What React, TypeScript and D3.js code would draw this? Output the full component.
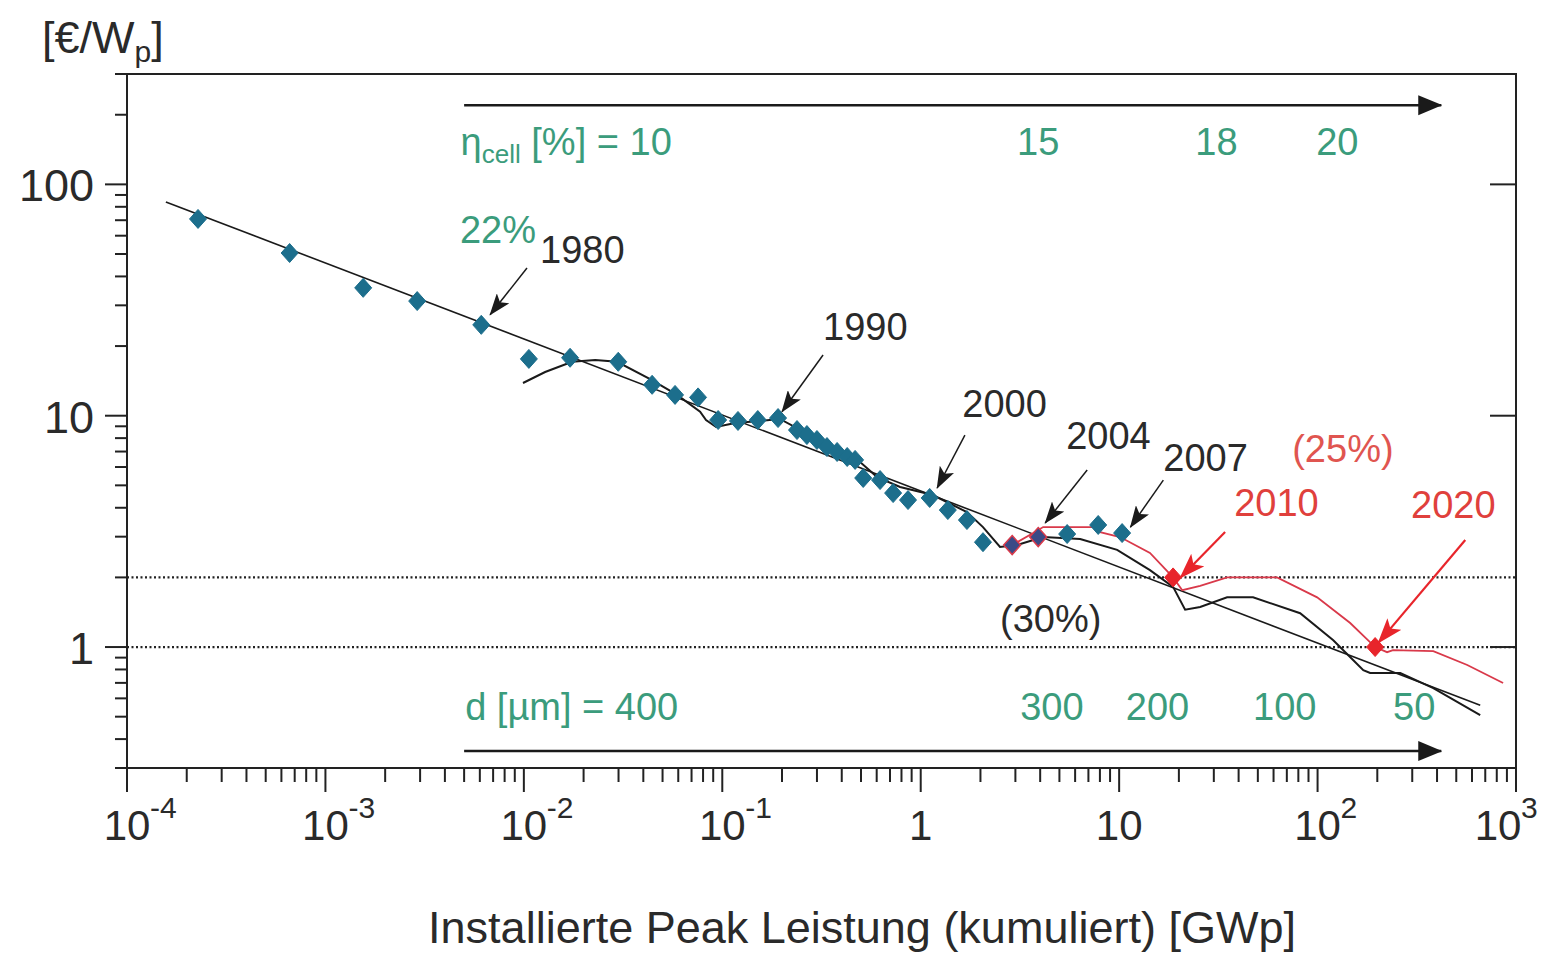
import React from 'react';
import * as d3 from 'd3';

const W = 1550;
const H = 953;
const FONT = "'Liberation Sans', Arial, Helvetica, sans-serif";

// Historical module prices: cumulative installed capacity [GWp] vs. price [€/Wp]
const capacityGWp = [
  2.28e-4, 6.6e-4, 1.55e-3, 2.9e-3, 6.1e-3, 0.0106, 0.0171, 0.0299, 0.0443, 0.0578,
  0.0755, 0.0953, 0.12, 0.151, 0.191, 0.238, 0.267, 0.3, 0.337, 0.379,
  0.426, 0.467, 0.513, 0.624, 0.726, 0.863, 1.11, 1.37, 1.71, 2.06,
  2.89, 3.91, 5.47, 7.84, 10.35,
];
const priceEurWp = [
  70.9, 50.5, 35.7, 31.3, 24.7, 17.6, 17.8, 17.1, 13.6, 12.3,
  12.0, 9.58, 9.49, 9.58, 9.77, 8.67, 8.25, 7.85, 7.32, 6.97,
  6.63, 6.44, 5.38, 5.27, 4.63, 4.32, 4.41, 3.91, 3.54, 2.84,
  2.76, 2.99, 3.08, 3.37, 3.11,
];
// points of the 2004 period drawn with a red rim
const rimmedPoints = [30, 31];

// straight experience curve (log-log)
const trendX = [1.57e-4, 660];
const trendY = [84, 0.56];

// price path with market humps
const humpX = [
  0.0099, 0.0128, 0.0175, 0.0229, 0.0295, 0.0433, 0.0592, 0.0773, 0.0828, 0.0931,
  0.116, 0.155, 0.195, 0.277, 0.393, 0.495, 0.603, 0.787, 1.15, 1.71,
  2.06, 2.51, 3.06, 4.14, 6.36, 9.77, 14.3, 18.7, 21.5, 25.6,
  35.0, 47.3, 81.7, 120, 151, 170, 184, 261, 383, 660,
];
const humpY = [
  13.85, 15.45, 17.1, 17.4, 17.1, 14.4, 12.3, 10.4, 9.58, 8.94,
  9.3, 9.49, 9.68, 8.25, 6.97, 6.31, 5.43, 4.92, 4.54, 3.83,
  3.3, 2.71, 2.76, 2.99, 2.93, 2.63, 2.15, 1.82, 1.45, 1.49,
  1.64, 1.64, 1.4, 1.07, 0.879, 0.795, 0.772, 0.772, 0.665, 0.508,
];

// projected price path (red)
const projX = [
  2.72, 3.69, 4.14, 7.4, 8.02, 10.1, 14.3, 18.7, 20.8, 25.6,
  35.0, 62.5, 99.5, 146, 195, 224, 240, 383, 568, 861,
];
const projY = [
  2.68, 3.11, 3.3, 3.3, 3.14, 2.99, 2.55, 2.0, 1.76, 1.84,
  2.0, 2.0, 1.64, 1.27, 1.0, 0.95, 0.97, 0.96, 0.836, 0.699,
];

// price targets 2010 / 2020
const targetX = [18.7, 195];
const targetY = [2.0, 1.0];

// reference price levels (dotted)
const refLevels = [2, 1];

// year annotations: label position and arrow tail -> tip, in data units
const yearLabels = ['1980', '1990', '2000', '2004', '2007', '2010', '2020'];
const yearLabelX = [0.01207, 0.322, 1.62, 5.41, 16.7, 38.0, 296];
const yearLabelY = [45.7, 21.2, 9.87, 7.18, 5.77, 3.69, 3.61];
const arrowFromX = [0.01037, 0.322, 1.67, 6.9, 16.7, 34.2, 555];
const arrowFromY = [43.5, 18.3, 8.25, 5.82, 5.27, 3.14, 2.9];
const arrowToX = [6.76e-3, 0.2, 1.21, 4.24, 11.4, 20.3, 202];
const arrowToY = [27.3, 10.4, 4.87, 3.44, 3.3, 1.99, 1.04];
const yearIsProjection = [false, false, false, false, false, true, true];

// efficiency notes
const effNotes = ['22%', '(25%)', '(30%)'];
const effNoteX = [4.76e-3, 74.5, 2.51];
const effNoteY = [55.8, 6.31, 1.16];

// cell efficiency scale (top) and wafer thickness scale (bottom)
const etaValues = ['15', '18', '20'];
const etaX = [3.06, 24.2, 98.4];
const etaStartX = 4.8e-3;
const etaRowY = 134;
const thicknessValues = ['300', '200', '100', '50'];
const thicknessX = [3.17, 10.8, 47.3, 240];
const thicknessStartX = 5.06e-3;
const thicknessRowY = 0.484;
const scaleArrowX = [0.005, 420];
const scaleArrowY = [220, 0.355];

const TEXT = '#2a2a2a';
const GREEN = '#3b9c7c';
const RED = '#e0403c';
const BLUE = '#1c6e8c';

export default function App() {
  const x = d3.scaleLog().domain([1e-4, 1e3]).range([127, 1516]);
  const y = d3.scaleLog().domain([0.3, 300]).range([768, 74]);
  const line = d3
    .line<[number, number]>()
    .x((d) => x(d[0]))
    .y((d) => y(d[1]));

  const isMajor = (v: number) => {
    const l = Math.log10(v);
    return Math.abs(l - Math.round(l)) < 1e-9;
  };

  const [x0, x1] = x.range();
  const [yb, yt] = y.range();

  const diamond = (cx: number, cy: number, hw = 8.5, hh = 9.5) => {
    const p = d3.path();
    p.moveTo(cx, cy - hh);
    p.lineTo(cx + hw, cy);
    p.lineTo(cx, cy + hh);
    p.lineTo(cx - hw, cy);
    p.closePath();
    return p.toString();
  };

  const trend = trendX.map((v, i) => [v, trendY[i]] as [number, number]);
  const hump = humpX.map((v, i) => [v, humpY[i]] as [number, number]);
  const proj = projX.map((v, i) => [v, projY[i]] as [number, number]);

  return (
    <svg
      width={W}
      height={H}
      viewBox={`0 0 ${W} ${H}`}
      style={{ position: 'absolute', left: 0, top: 0, background: '#fff' }}
      fontFamily={FONT}
    >
      <defs>
        <marker id="headBlack" viewBox="0 0 22 16" refX="21" refY="8" markerWidth="22" markerHeight="16" markerUnits="userSpaceOnUse" orient="auto">
          <path d="M0,0 L22,8 L0,16 L5,8 Z" fill="#1a1a1a" />
        </marker>
        <marker id="headRed" viewBox="0 0 26 18" refX="25" refY="9" markerWidth="26" markerHeight="18" markerUnits="userSpaceOnUse" orient="auto">
          <path d="M0,0 L26,9 L0,18 L6,9 Z" fill="#e8252b" />
        </marker>
        <marker id="headScale" viewBox="0 0 24 24" refX="23" refY="12" markerWidth="24" markerHeight="24" markerUnits="userSpaceOnUse" orient="auto">
          <path d="M0,2 L24,12 L0,22 Z" fill="#1a1a1a" />
        </marker>
      </defs>

      {/* reference levels */}
      {refLevels.map((v) => (
        <line key={`ref${v}`} x1={x0} x2={x1} y1={y(v)} y2={y(v)} stroke="#222" strokeWidth={2.2} strokeDasharray="2 2.5" />
      ))}

      {/* efficiency and thickness scale arrows */}
      <line x1={x(scaleArrowX[0])} x2={x(scaleArrowX[1])} y1={y(scaleArrowY[0])} y2={y(scaleArrowY[0])} stroke="#1a1a1a" strokeWidth={2.5} markerEnd="url(#headScale)" />
      <line x1={x(scaleArrowX[0])} x2={x(scaleArrowX[1])} y1={y(scaleArrowY[1])} y2={y(scaleArrowY[1])} stroke="#1a1a1a" strokeWidth={2.5} markerEnd="url(#headScale)" />

      <text x={x(etaStartX)} y={y(etaRowY)} fill={GREEN} fontSize={38}>
        η<tspan fontSize={26} dy={8}>cell</tspan>
        <tspan dy={-8}> [%] = 10</tspan>
      </text>
      {etaValues.map((t, i) => (
        <text key={`eta${t}`} x={x(etaX[i])} y={y(etaRowY)} fill={GREEN} fontSize={38}>{t}</text>
      ))}
      <text x={x(thicknessStartX)} y={y(thicknessRowY)} fill={GREEN} fontSize={38}>d [µm] = 400</text>
      {thicknessValues.map((t, i) => (
        <text key={`d${t}`} x={x(thicknessX[i])} y={y(thicknessRowY)} fill={GREEN} fontSize={38}>{t}</text>
      ))}

      {/* experience curve and price paths */}
      <path d={line(trend) ?? ''} fill="none" stroke="#1a1a1a" strokeWidth={1.6} />
      <path d={line(proj) ?? ''} fill="none" stroke="#d9394a" strokeWidth={1.8} />
      <path d={line(hump) ?? ''} fill="none" stroke="#1a1a1a" strokeWidth={2} />

      {/* market data */}
      {capacityGWp.map((v, i) => {
        const rim = rimmedPoints.includes(i);
        return (
          <path
            key={`pt${i}`}
            d={diamond(x(v), y(priceEurWp[i]))}
            fill={rim ? '#3a4a86' : BLUE}
            stroke={rim ? '#d9394a' : BLUE}
            strokeWidth={rim ? 1.5 : 1}
          />
        );
      })}
      {targetX.map((v, i) => (
        <path key={`tg${i}`} d={diamond(x(v), y(targetY[i]))} fill="#e8252b" stroke="#e8252b" strokeWidth={1} />
      ))}

      {/* year annotations */}
      {yearLabels.map((t, i) => {
        const red = yearIsProjection[i];
        return (
          <g key={`yr${t}`}>
            <line
              x1={x(arrowFromX[i])}
              y1={y(arrowFromY[i])}
              x2={x(arrowToX[i])}
              y2={y(arrowToY[i])}
              stroke={red ? '#e8252b' : '#1a1a1a'}
              strokeWidth={red ? 2.2 : 1.5}
              markerEnd={red ? 'url(#headRed)' : 'url(#headBlack)'}
            />
            <text x={x(yearLabelX[i])} y={y(yearLabelY[i])} fill={red ? RED : TEXT} fontSize={38}>{t}</text>
          </g>
        );
      })}
      {effNotes.map((t, i) => (
        <text key={`eff${i}`} x={x(effNoteX[i])} y={y(effNoteY[i])} fill={i === 0 ? GREEN : i === 1 ? '#e05550' : TEXT} fontSize={38}>{t}</text>
      ))}

      {/* frame */}
      <rect x={x0} y={yt} width={x1 - x0} height={yb - yt} fill="none" stroke="#222" strokeWidth={2} />

      {/* y axis ticks (left, outward) */}
      {y.ticks().map((v) => {
        const major = isMajor(v);
        return <line key={`yt${v}`} x1={x0 - (major ? 22 : 12)} x2={x0} y1={y(v)} y2={y(v)} stroke="#222" strokeWidth={2} />;
      })}
      {/* y axis ticks (right, inward, decades only) */}
      {y.ticks().filter(isMajor).map((v) => (
        <line key={`yr${v}`} x1={x1 - 26} x2={x1} y1={y(v)} y2={y(v)} stroke="#222" strokeWidth={2} />
      ))}
      {y.ticks().filter(isMajor).map((v) => (
        <text key={`yl${v}`} x={94} y={y(v) + 17} textAnchor="end" fill={TEXT} fontSize={45}>{String(v)}</text>
      ))}

      {/* x axis ticks */}
      {x.ticks().map((v) => {
        const major = isMajor(v);
        return <line key={`xt${v}`} x1={x(v)} x2={x(v)} y1={yb} y2={yb + (major ? 24 : 14)} stroke="#222" strokeWidth={2} />;
      })}
      {x.ticks().filter(isMajor).map((v) => {
        const e = Math.round(Math.log10(v));
        // keep the last label inside the canvas
        const cx = x(v) >= x1 - 1 ? x(v) - 18 : x(v);
        if (e === 0) return <text key={`xl${e}`} x={cx} y={840} textAnchor="middle" fill={TEXT} fontSize={42}>1</text>;
        if (e === 1) return <text key={`xl${e}`} x={cx} y={840} textAnchor="middle" fill={TEXT} fontSize={42}>10</text>;
        return (
          <g key={`xl${e}`}>
            <text x={cx} y={840} textAnchor="middle" fill={TEXT} fontSize={42}>10</text>
            <text x={cx + 23} y={818} textAnchor="start" fill={TEXT} fontSize={30}>{String(e)}</text>
          </g>
        );
      })}

      {/* axis titles */}
      <text x={42} y={53} fill={TEXT} fontSize={45}>
        [€/W<tspan fontSize={30} dy={9}>p</tspan>
        <tspan dy={-9}>]</tspan>
      </text>
      <text x={862} y={943} textAnchor="middle" fill={TEXT} fontSize={45}>
        Installierte Peak Leistung (kumuliert) [GWp]
      </text>
    </svg>
  );
}
